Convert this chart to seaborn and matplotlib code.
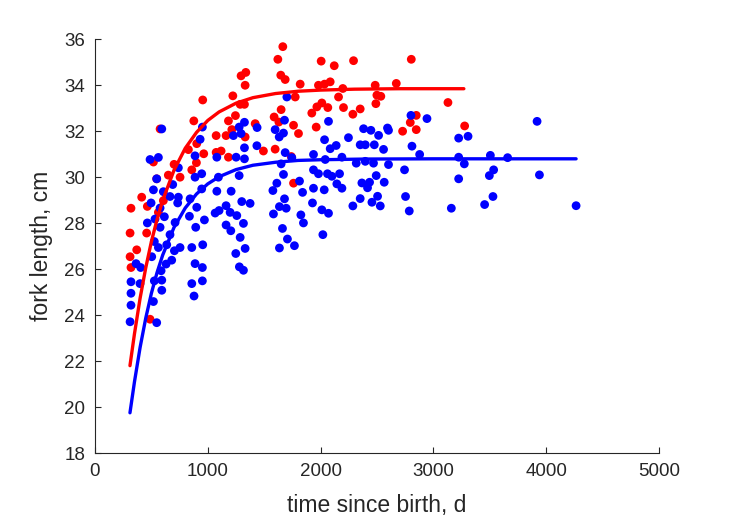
import numpy as np
import pandas as pd
import matplotlib
matplotlib.use("Agg")
import matplotlib.pyplot as plt
import seaborn as sns

# ---- data ----
red_t = [319, 311, 311, 319, 370, 414, 458, 464, 488, 518, 547, 562, 577, 606,
         650, 701, 754, 828, 858, 876, 899, 902, 955, 964, 1074, 1074, 1118,
         1162, 1183, 1183, 1213, 1222, 1245, 1287, 1295, 1325, 1331, 1331, 1337,
         1420, 1493, 1588, 1597, 1621, 1630, 1647, 1650, 1665, 1686, 1740, 1760,
         1760, 1775, 1804, 1819, 1922, 1961, 1967, 1981, 2005, 2011, 2035, 2064,
         2085, 2121, 2159, 2197, 2203, 2286, 2292, 2351, 2484, 2490, 2499, 2534,
         2671, 2727, 2795, 2804, 2848, 2848, 3129, 3277]
red_L = [28.65, 27.57, 26.54, 26.07, 26.84, 29.13, 27.57, 28.73, 23.82, 30.66,
         29.93, 28.47, 32.10, 28.98, 30.09, 30.56, 30.00, 31.20, 30.32, 32.45,
         30.63, 31.46, 33.36, 31.02, 31.81, 31.08, 31.14, 31.81, 32.45, 30.87,
         32.07, 33.54, 32.68, 33.17, 34.41, 33.17, 34.00, 31.75, 34.56, 32.33,
         31.14, 32.62, 31.22, 35.13, 32.40, 34.44, 32.94, 35.68, 34.25, 30.90,
         32.26, 29.74, 33.49, 31.90, 34.05, 32.79, 32.18, 33.06, 34.00, 35.05,
         33.23, 34.05, 33.03, 34.15, 34.85, 33.49, 33.86, 33.03, 32.74, 35.07,
         32.97, 34.00, 33.20, 33.57, 33.52, 34.08, 32.00, 32.38, 35.13, 32.69,
         32.07, 33.25, 32.23]

blue_t = [319, 319, 319, 311, 364, 399, 405, 464, 488, 497, 503, 518, 518, 526,
          526, 532, 547, 547, 562, 562, 577, 577, 586, 592, 592, 592, 606, 615,
          630, 636, 665, 665, 680, 689, 704, 710, 733, 739, 739, 754, 837, 843,
          858, 858, 878, 887, 887, 887, 893, 902, 932, 946, 946, 952, 952, 952,
          955, 970, 1065, 1080, 1080, 1094, 1100, 1162, 1162, 1198, 1204, 1207,
          1227, 1248, 1251, 1257, 1278, 1278, 1280, 1287, 1295, 1301, 1316, 1316,
          1325, 1325, 1325, 1331, 1375, 1435, 1437, 1577, 1582, 1597, 1612, 1633,
          1635, 1635, 1650, 1662, 1671, 1671, 1680, 1680, 1686, 1695, 1701, 1706,
          1745, 1768, 1813, 1825, 1840, 1848, 1928, 1937, 1937, 1937, 1981, 2011,
          2020, 2032, 2035, 2041, 2061, 2070, 2070, 2085, 2100, 2138, 2144, 2168,
          2189, 2189, 2247, 2286, 2316, 2351, 2351, 2366, 2381, 2396, 2396, 2416,
          2434, 2446, 2455, 2469, 2476, 2493, 2505, 2514, 2529, 2558, 2564, 2593,
          2602, 2602, 2744, 2753, 2786, 2801, 2810, 2878, 2943, 3159, 3224, 3224,
          3224, 3274, 3307, 3454, 3496, 3505, 3528, 3534, 3658, 3919, 3940, 4265]
blue_L = [25.45, 24.95, 24.43, 23.71, 26.24, 25.37, 26.07, 28.01, 30.77, 28.88,
          26.54, 29.45, 24.59, 27.20, 25.49, 28.18, 29.93, 23.67, 30.86, 26.94,
          28.66, 27.82, 25.93, 32.10, 25.52, 25.08, 29.37, 28.28, 26.22, 27.06,
          29.16, 27.50, 26.39, 29.68, 26.80, 28.03, 28.88, 30.41, 29.13, 26.94,
          28.30, 29.06, 26.94, 25.37, 24.83, 30.93, 30.00, 26.24, 27.82, 28.69,
          31.65, 30.15, 29.49, 32.18, 26.07, 25.49, 27.06, 28.14, 28.44, 30.87,
          29.39, 30.00, 28.55, 28.76, 27.92, 28.47, 27.67, 29.39, 31.81, 26.68,
          30.87, 28.33, 32.18, 30.07, 26.10, 27.38, 31.90, 28.94, 27.99, 25.95,
          32.39, 31.28, 30.80, 26.90, 28.86, 31.37, 32.16, 29.42, 28.40, 32.07,
          29.74, 31.75, 28.72, 26.92, 30.58, 27.77, 31.92, 30.12, 32.48, 29.06,
          31.07, 28.65, 33.49, 27.31, 30.85, 27.02, 29.83, 28.36, 29.34, 28.01,
          28.88, 30.99, 30.32, 29.52, 30.15, 28.58, 27.50, 29.45, 31.63, 30.77,
          30.15, 32.43, 28.43, 31.24, 30.04, 31.38, 29.71, 30.15, 30.87, 29.52,
          31.72, 28.75, 30.61, 31.41, 29.07, 29.75, 32.11, 31.41, 30.69, 29.54,
          29.78, 32.04, 28.91, 30.61, 31.41, 30.07, 29.17, 31.82, 28.75, 31.21,
          29.78, 32.14, 32.04, 30.55, 30.32, 29.16, 28.53, 32.69, 31.35, 30.99,
          32.55, 28.65, 31.70, 30.87, 29.93, 30.58, 31.78, 28.81, 30.07, 30.95,
          29.16, 30.32, 30.85, 32.43, 30.10, 28.76]

# fitted growth curves
red_fit_t = [310, 350, 400, 450, 500, 550, 600, 700, 800, 900, 1000, 1100, 1250,
             1400, 1600, 1800, 2000, 2300, 2700, 3270]
red_fit_L = [21.80, 23.19, 24.74, 26.06, 27.20, 28.16, 28.99, 30.30, 31.26, 31.95,
             32.47, 32.84, 33.22, 33.46, 33.64, 33.74, 33.79, 33.83, 33.85, 33.85]
blue_fit_t = [310, 350, 400, 450, 500, 550, 600, 700, 800, 900, 1000, 1100, 1250,
              1400, 1600, 1800, 2000, 2400, 3000, 4265]
blue_fit_L = [19.75, 21.10, 22.60, 23.87, 24.95, 25.85, 26.61, 27.81, 28.66, 29.27,
              29.71, 30.02, 30.33, 30.52, 30.65, 30.73, 30.76, 30.79, 30.80, 30.80]

x_ticks = [0, 1000, 2000, 3000, 4000, 5000]
y_ticks = [18, 20, 22, 24, 26, 28, 30, 32, 34, 36]

# ---- plot ----
sns.set_style("white")
plt.rcParams['font.family'] = ['Liberation Sans', 'DejaVu Sans']
axc = (0.15, 0.15, 0.15)

fig = plt.figure(figsize=(7.29, 5.21), dpi=100)
ax = fig.add_axes([95 / 729, 1 - 453 / 521, (659 - 95) / 729, (453 - 39.3) / 521])

red_df = pd.DataFrame({"t": red_t, "L": red_L})
blue_df = pd.DataFrame({"t": blue_t, "L": blue_L})
sns.scatterplot(data=red_df, x="t", y="L", color=(1, 0, 0), s=40,
                edgecolor="none", linewidth=0, ax=ax, zorder=2)
sns.scatterplot(data=blue_df, x="t", y="L", color=(0, 0, 1), s=40,
                edgecolor="none", linewidth=0, ax=ax, zorder=3)

rf = pd.DataFrame({"t": red_fit_t, "L": red_fit_L})
bf = pd.DataFrame({"t": blue_fit_t, "L": blue_fit_L})
sns.lineplot(data=rf, x="t", y="L", color=(1, 0, 0), lw=2.4, sort=False,
             estimator=None, ax=ax, zorder=4)
sns.lineplot(data=bf, x="t", y="L", color=(0, 0, 1), lw=2.4, sort=False,
             estimator=None, ax=ax, zorder=5)

ax.set_xlim(0, 5000)
ax.set_ylim(18, 36)
ax.set_xticks(x_ticks)
ax.set_yticks(y_ticks)
ax.set_xticklabels([str(v) for v in x_ticks])
ax.set_yticklabels([str(v) for v in y_ticks])

for s in ["top", "right"]:
    ax.spines[s].set_visible(False)
for s in ["left", "bottom"]:
    ax.spines[s].set_color(axc)
    ax.spines[s].set_linewidth(0.8)
ax.tick_params(direction="in", length=4.5, width=0.8, colors=axc,
               labelsize=13.5, pad=7, left=True, bottom=True)

ax.set_xlabel("time since birth, d", fontsize=16.5, color=axc, labelpad=10)
ax.set_ylabel("fork length, cm", fontsize=16.5, color=axc, labelpad=8)

fig.savefig("out.png", dpi=100)
